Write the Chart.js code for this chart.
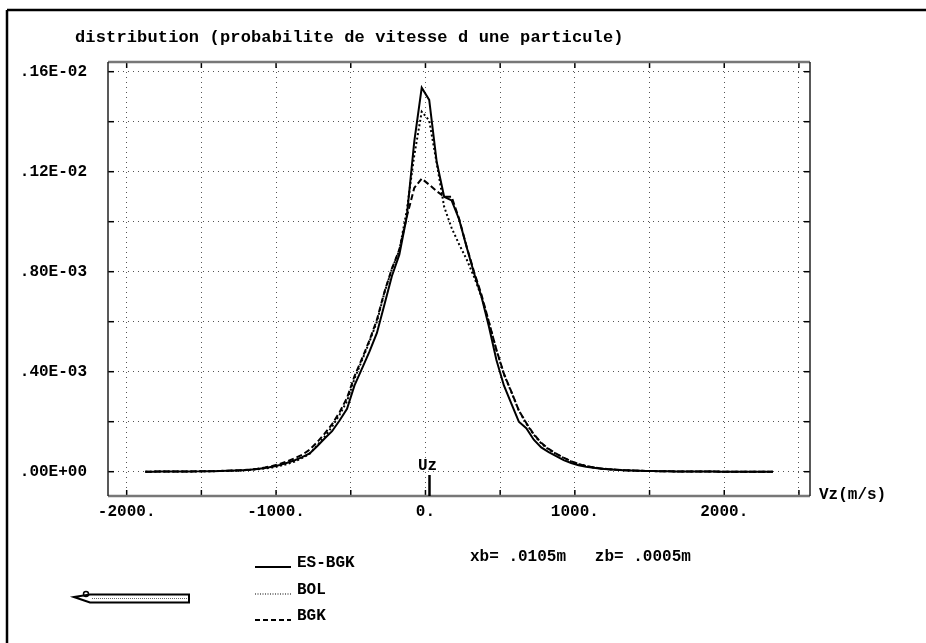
<!DOCTYPE html>
<html>
<head>
<meta charset="utf-8">
<script src="https://cdn.jsdelivr.net/npm/chart.js@4/dist/chart.umd.min.js"></script>
<style>
  html, body { margin: 0; padding: 0; background: #fff; }
  #wrap { position: relative; width: 926px; height: 643px; }
</style>
</head>
<body>
<div id="wrap"><canvas id="chart"></canvas></div>
<script>
// velocity bins (m/s)
const vz = [
  -1875, -1825, -1775, -1725, -1675, -1625, -1575, -1525, -1475, -1425,
  -1375, -1325, -1275, -1225, -1175, -1125, -1075, -1025, -975, -925,
  -875, -825, -775, -725, -675, -625, -575, -525, -475, -425,
  -375, -325, -275, -225, -175, -125, -75, -25, 25, 75,
  125, 175, 225, 275, 325, 375, 425, 475, 525, 575,
  625, 675, 725, 775, 825, 875, 925, 975, 1025, 1075,
  1125, 1175, 1225, 1275, 1325, 1375, 1425, 1475, 1525, 1575,
  1625, 1675, 1725, 1775, 1825, 1875, 1925, 1975, 2025, 2075,
  2125, 2175, 2225, 2275, 2325
];

const esbgk = [
  0.2e-6, 0.3e-6, 0.4e-6, 0.5e-6, 0.6e-6, 0.8e-6, 1.0e-6, 1.3e-6, 1.7e-6, 2.2e-6,
  2.8e-6, 3.5e-6, 4.5e-6, 6.0e-6, 8.0e-6, 11e-6, 15e-6, 20e-6, 27e-6, 36e-6,
  46e-6, 58e-6, 73e-6, 102e-6, 133e-6, 162e-6, 205e-6, 252e-6, 345e-6, 412e-6,
  480e-6, 555e-6, 668e-6, 782e-6, 868e-6, 1020e-6, 1320e-6, 1536e-6, 1487e-6, 1240e-6,
  1100e-6, 1085e-6, 1010e-6, 900e-6, 795e-6, 700e-6, 580e-6, 447e-6, 345e-6, 272e-6,
  200e-6, 174e-6, 128e-6, 97e-6, 78e-6, 62e-6, 46e-6, 35e-6, 26e-6, 20e-6,
  16e-6, 12e-6, 9.5e-6, 7.5e-6, 6.0e-6, 4.8e-6, 3.8e-6, 3.0e-6, 2.4e-6, 1.9e-6,
  1.5e-6, 1.2e-6, 0.9e-6, 0.7e-6, 0.6e-6, 0.5e-6, 0.4e-6, 0.3e-6, 0.3e-6, 0.2e-6,
  0.2e-6, 0.2e-6, 0.1e-6, 0.1e-6, 0.1e-6
];

const bol = [
  0.2e-6, 0.3e-6, 0.4e-6, 0.5e-6, 0.6e-6, 0.8e-6, 1.0e-6, 1.3e-6, 1.6e-6, 2.0e-6,
  2.6e-6, 3.3e-6, 4.2e-6, 5.5e-6, 7.2e-6, 10e-6, 13e-6, 17e-6, 23e-6, 31e-6,
  41e-6, 55e-6, 72e-6, 105e-6, 140e-6, 180e-6, 228e-6, 282e-6, 372e-6, 445e-6,
  520e-6, 600e-6, 715e-6, 810e-6, 885e-6, 1045e-6, 1265e-6, 1440e-6, 1405e-6, 1235e-6,
  1060e-6, 975e-6, 910e-6, 850e-6, 780e-6, 700e-6, 598e-6, 487e-6, 390e-6, 318e-6,
  245e-6, 192e-6, 148e-6, 113e-6, 89e-6, 71e-6, 55e-6, 41e-6, 31e-6, 23e-6,
  17e-6, 13e-6, 10e-6, 7.8e-6, 6.1e-6, 4.8e-6, 3.8e-6, 3.0e-6, 2.4e-6, 1.9e-6,
  1.5e-6, 1.2e-6, 0.9e-6, 0.7e-6, 0.6e-6, 0.5e-6, 0.4e-6, 0.3e-6, 0.3e-6, 0.2e-6,
  0.2e-6, 0.2e-6, 0.1e-6, 0.1e-6, 0.1e-6
];

const bgk = [
  0.2e-6, 0.3e-6, 0.4e-6, 0.5e-6, 0.7e-6, 0.9e-6, 1.1e-6, 1.4e-6, 1.8e-6, 2.3e-6,
  3.0e-6, 3.8e-6, 4.9e-6, 6.5e-6, 8.8e-6, 12e-6, 17e-6, 23e-6, 31e-6, 42e-6,
  54e-6, 68e-6, 88e-6, 118e-6, 152e-6, 190e-6, 238e-6, 295e-6, 382e-6, 452e-6,
  525e-6, 608e-6, 718e-6, 812e-6, 888e-6, 1020e-6, 1135e-6, 1172e-6, 1148e-6, 1122e-6,
  1100e-6, 1100e-6, 1012e-6, 902e-6, 800e-6, 708e-6, 598e-6, 488e-6, 392e-6, 320e-6,
  245e-6, 195e-6, 150e-6, 116e-6, 91e-6, 72e-6, 56e-6, 42e-6, 31e-6, 23e-6,
  17e-6, 13e-6, 10e-6, 7.8e-6, 6.1e-6, 4.8e-6, 3.8e-6, 3.0e-6, 2.4e-6, 1.9e-6,
  1.5e-6, 1.2e-6, 0.9e-6, 0.7e-6, 0.6e-6, 0.5e-6, 0.4e-6, 0.3e-6, 0.3e-6, 0.2e-6,
  0.2e-6, 0.2e-6, 0.1e-6, 0.1e-6, 0.1e-6
];

// axes
const xTickValues = [-2000, -1500, -1000, -500, 0, 500, 1000, 1500, 2000, 2500];
const xTickLabels = ['-2000.', '', '-1000.', '', '0.', '', '1000.', '', '2000.', ''];
const yTickValues = [0, 0.0002, 0.0004, 0.0006, 0.0008, 0.001, 0.0012, 0.0014, 0.0016];
const yTickLabels = ['.00E+00', '', '.40E-03', '', '.80E-03', '', '.12E-02', '', '.16E-02'];

const uzValue = 27;
const seriesNames = ['ES-BGK', 'BOL', 'BGK'];
const titleText = 'distribution (probabilite de vitesse d une particule)';
const posText = 'xb= .0105m   zb= .0005m';

const MONO = '"Liberation Mono", "DejaVu Sans Mono", monospace';
const tickFont = { family: MONO, size: 16, weight: 'bold' };

function toPoints(ys) {
  return vz.map((v, i) => ({ x: v, y: ys[i] }));
}

// frame, inward ticks, Uz marker, legend and labels
const decor = {
  id: 'decor',
  afterDraw(chart) {
    const { ctx, chartArea: a, scales: { x, y } } = chart;
    const line = (x1, y1, x2, y2) => {
      ctx.beginPath(); ctx.moveTo(x1, y1); ctx.lineTo(x2, y2); ctx.stroke();
    };
    ctx.save();
    ctx.setLineDash([]);

    // inward tick marks
    ctx.strokeStyle = '#000';
    ctx.lineWidth = 1.5;
    xTickValues.forEach(v => {
      const px = x.getPixelForValue(v);
      line(px, a.bottom, px, a.bottom - 6);
      line(px, a.top, px, a.top + 6);
    });
    yTickValues.forEach(v => {
      const py = y.getPixelForValue(v);
      line(a.left, py, a.left + 6, py);
      line(a.right, py, a.right - 6, py);
    });

    // plot frame
    ctx.strokeStyle = '#777';
    ctx.lineWidth = 2.5;
    line(a.left, a.top, a.right, a.top);
    line(a.left, a.bottom, a.right, a.bottom);
    ctx.strokeStyle = '#222';
    ctx.lineWidth = 1.5;
    line(a.left, a.top, a.left, a.bottom);
    line(a.right, a.top, a.right, a.bottom);

    // Uz marker
    const ux = x.getPixelForValue(uzValue);
    ctx.strokeStyle = '#000';
    ctx.lineWidth = 2.5;
    line(ux, a.bottom, ux, a.bottom - 21);

    ctx.fillStyle = '#000';
    ctx.font = 'bold 16px ' + MONO;
    ctx.textBaseline = 'middle';
    ctx.textAlign = 'center';
    ctx.fillText('Uz', ux - 2, a.bottom - 30);

    ctx.textAlign = 'left';
    ctx.fillText('Vz(m/s)', a.right + 9, a.bottom - 1);

    // title
    ctx.font = 'bold 17px ' + MONO;
    ctx.letterSpacing = '0.15px';
    ctx.fillText(titleText, 75, 38);
    ctx.letterSpacing = '0px';

    // legend
    ctx.font = 'bold 16px ' + MONO;
    const rows = [563, 590, 616];
    const dashes = [[], [1, 1.5], [5, 3]];
    const widths = [2, 1.2, 2];
    rows.forEach((ry, i) => {
      ctx.setLineDash(dashes[i]);
      ctx.lineWidth = widths[i];
      line(255, ry + 4, 291, ry + 4);
      ctx.setLineDash([]);
      ctx.fillText(seriesNames[i], 297, ry);
    });
    ctx.fillText(posText, 470, 557);

    // arrow symbol
    ctx.lineWidth = 2;
    ctx.strokeStyle = '#000';
    ctx.beginPath();
    ctx.moveTo(74, 597);
    ctx.lineTo(90, 594.5);
    ctx.lineTo(189, 594.5);
    ctx.lineTo(189, 602.5);
    ctx.lineTo(90, 602.5);
    ctx.closePath();
    ctx.stroke();
    ctx.setLineDash([1, 1]);
    ctx.lineWidth = 1;
    ctx.strokeStyle = '#666';
    line(92, 598.5, 187, 598.5);
    ctx.setLineDash([]);
    ctx.strokeStyle = '#000';
    ctx.lineWidth = 1.5;
    ctx.beginPath();
    ctx.arc(86, 594, 2.5, 0, Math.PI * 2);
    ctx.stroke();

    // outer frame
    ctx.lineWidth = 2.5;
    line(7, 10, 926, 10);
    line(7, 10, 7, 643);
    ctx.restore();
  }
};

new Chart(document.getElementById('chart'), {
  type: 'line',
  data: {
    datasets: [
      { label: seriesNames[0], data: toPoints(esbgk), borderColor: '#000', borderWidth: 2, borderDash: [] },
      { label: seriesNames[1], data: toPoints(bol), borderColor: '#000', borderWidth: 2, borderDash: [2, 2.5] },
      { label: seriesNames[2], data: toPoints(bgk), borderColor: '#000', borderWidth: 2, borderDash: [6, 3] }
    ]
  },
  options: {
    responsive: true,
    maintainAspectRatio: false,
    devicePixelRatio: 1,
    animation: false,
    layout: { padding: { left: 0, right: 116, top: 62, bottom: 0 } },
    elements: { point: { radius: 0 }, line: { tension: 0, fill: false } },
    plugins: { legend: { display: false }, tooltip: { enabled: false }, title: { display: false } },
    scales: {
      x: {
        type: 'linear',
        min: -2125,
        max: 2574,
        afterBuildTicks: s => { s.ticks = xTickValues.map(v => ({ value: v })); },
        afterFit: s => { s.height = 147; },
        grid: { color: '#555', lineWidth: 1, drawTicks: false },
        border: { display: false, dash: [1, 4] },
        ticks: {
          autoSkip: false, maxRotation: 0, padding: 6, color: '#000', font: tickFont,
          callback: (v, i) => xTickLabels[i]
        }
      },
      y: {
        type: 'linear',
        min: -0.0000972,
        max: 0.0016388,
        afterBuildTicks: s => { s.ticks = yTickValues.map(v => ({ value: v })); },
        afterFit: s => { s.width = 108; },
        grid: { color: '#555', lineWidth: 1, drawTicks: false },
        border: { display: false, dash: [1, 4] },
        ticks: {
          autoSkip: false, padding: 21, color: '#000', font: tickFont,
          callback: (v, i) => yTickLabels[i]
        }
      }
    }
  },
  plugins: [decor]
});
</script>
</body>
</html>
